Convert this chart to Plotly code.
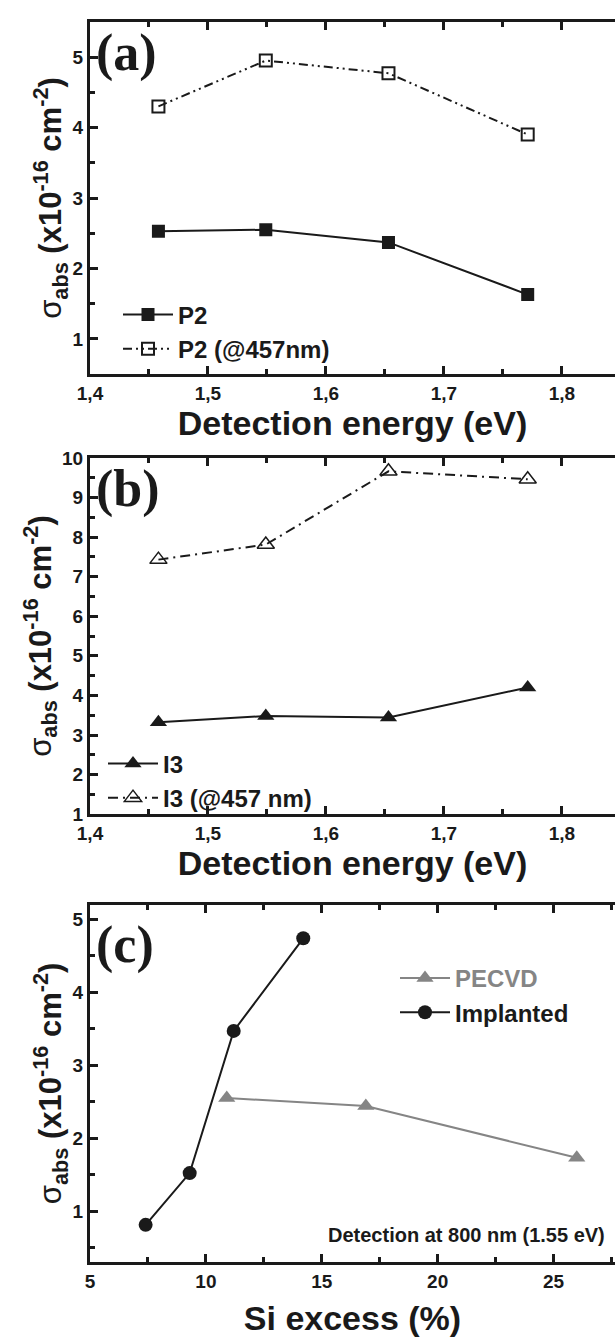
import plotly.graph_objects as go

# ---- data -------------------------------------------------------------
# (a) P2 sample
energy_a = [1.458, 1.549, 1.653, 1.771]
p2 = [2.53, 2.55, 2.37, 1.63]
p2_457 = [4.30, 4.95, 4.77, 3.90]

# (b) I3 sample
energy_b = [1.458, 1.549, 1.653, 1.771]
i3 = [3.32, 3.48, 3.44, 4.20]
i3_457 = [7.43, 7.81, 9.66, 9.46]

# (c) versus Si excess, detection at 800 nm
si_pecvd = [10.9, 16.9, 26.0]
pecvd = [2.55, 2.44, 1.73]
si_impl = [7.4, 9.3, 11.2, 14.2]
implanted = [0.81, 1.52, 3.47, 4.74]

W, H = 615, 1340
BLACK = "#1a1a1a"
GRAY = "#858585"
FONT = "Liberation Sans"
LEFT = 90
PLOT_W = W - LEFT


def yfrac(px):
    return 1 - px / H


def xfrac(px):
    return (px - LEFT) / PLOT_W


fig = go.Figure()

line_w = 2
fig.add_trace(go.Scatter(x=energy_a, y=p2, name="P2", mode="lines+markers",
                         line=dict(color=BLACK, width=line_w),
                         marker=dict(symbol="square", size=13, color=BLACK),
                         xaxis="x", yaxis="y", legend="legend"))
fig.add_trace(go.Scatter(x=energy_a, y=p2_457, name="P2 (@457nm)", mode="lines+markers",
                         line=dict(color=BLACK, width=line_w, dash="9px,4px,2px,4px,2px,4px"),
                         marker=dict(symbol="square-open", size=12, color=BLACK,
                                     line=dict(width=2)),
                         xaxis="x", yaxis="y", legend="legend"))

fig.add_trace(go.Scatter(x=energy_b, y=i3, name="I3", mode="lines+markers",
                         line=dict(color=BLACK, width=line_w),
                         marker=dict(symbol="triangle-up", size=15, color=BLACK),
                         xaxis="x2", yaxis="y2", legend="legend2"))
fig.add_trace(go.Scatter(x=energy_b, y=i3_457, name="I3 (@457 nm)", mode="lines+markers",
                         line=dict(color=BLACK, width=line_w, dash="10px,5px,2px,5px"),
                         marker=dict(symbol="triangle-up-open", size=15, color=BLACK,
                                     line=dict(width=1.5)),
                         xaxis="x2", yaxis="y2", legend="legend2"))

fig.add_trace(go.Scatter(x=si_pecvd, y=pecvd,
                         name=f"<span style='color:{GRAY}'>PECVD</span>",
                         mode="lines+markers",
                         line=dict(color=GRAY, width=line_w),
                         marker=dict(symbol="triangle-up", size=15, color=GRAY),
                         xaxis="x3", yaxis="y3", legend="legend3"))
fig.add_trace(go.Scatter(x=si_impl, y=implanted, name="Implanted", mode="lines+markers",
                         line=dict(color=BLACK, width=line_w),
                         marker=dict(symbol="circle", size=14, color=BLACK),
                         xaxis="x3", yaxis="y3", legend="legend3"))

tick_font = dict(family=FONT, size=19, color=BLACK, weight="bold")
title_font = dict(family=FONT, size=34, color=BLACK, weight="bold")
ytitle = ("<span style='font-weight:normal'>σ</span><sub>abs</sub> "
          "(x10<sup>-16</sup> cm<sup>-2</sup>)")


def xaxis(rng, dtick, minor, fmt, title, anchor, standoff=8):
    return dict(range=rng, dtick=dtick, tick0=0, tickformat=fmt,
                showline=True, linewidth=3, linecolor=BLACK, mirror="ticks",
                ticks="inside", ticklen=8, tickwidth=2.5, tickcolor=BLACK,
                minor=dict(dtick=minor, ticks="inside", ticklen=5, tickwidth=2.5,
                           tickcolor=BLACK),
                showgrid=False, zeroline=False, tickfont=tick_font,
                title=dict(text=title, font=title_font, standoff=standoff),
                anchor=anchor, domain=[0, 1])


def yaxis(rng, dom, anchor):
    return dict(range=rng, dtick=1, tick0=0, showline=True, linewidth=3,
                linecolor=BLACK, mirror=False,
                ticks="inside", ticklen=8, tickwidth=2.5, tickcolor=BLACK,
                minor=dict(dtick=0.5, ticks="inside", ticklen=5, tickwidth=2.5,
                           tickcolor=BLACK),
                showgrid=False, zeroline=False, tickfont=tick_font,
                title=dict(text=ytitle, font=dict(family=FONT, size=31,
                                                  color=BLACK, weight="bold"),
                           standoff=2),
                domain=dom, anchor=anchor)


legend_font = dict(family=FONT, size=24, color=BLACK, weight="bold")
legend_common = dict(xanchor="left", yanchor="top", bgcolor="rgba(0,0,0,0)",
                     font=legend_font, itemwidth=50)

fig.update_layout(
    width=W, height=H,
    margin=dict(l=LEFT, r=0, t=0, b=0),
    paper_bgcolor="white", plot_bgcolor="white",
    separators=",.",
    xaxis=xaxis([1.4, 1.845], 0.1, 0.05, ".1f", "Detection energy (eV)", "y"),
    yaxis=yaxis([0.5, 5.5], [yfrac(370), yfrac(12)], "x"),
    xaxis2=xaxis([1.4, 1.845], 0.1, 0.05, ".1f", "Detection energy (eV)", "y2"),
    yaxis2=yaxis([1, 10], [yfrac(817), yfrac(455)], "x2"),
    xaxis3=xaxis([5, 27.65], 5, 2.5, "d", "Si excess (%)", "y3", standoff=16),
    yaxis3=yaxis([0.3, 5.2], [yfrac(1272), yfrac(909)], "x3"),
    legend=dict(x=xfrac(118), y=yfrac(287), **legend_common),
    legend2=dict(x=xfrac(103), y=yfrac(743), **legend_common),
    legend3=dict(x=xfrac(395), y=yfrac(961), **legend_common),
    showlegend=True,
)

panel_font = dict(family="Liberation Serif", size=52, color=BLACK, weight="bold")
for lab, xr, yr, ytop in [("(a)", "x domain", "y domain", 1.0),
                          ("(b)", "x2 domain", "y2 domain", 1.0),
                          ("(c)", "x3 domain", "y3 domain", 0.975)]:
    fig.add_annotation(text=lab, xref=xr, yref=yr, x=0.008, y=ytop,
                       xanchor="left", yanchor="top", showarrow=False,
                       font=panel_font)

fig.add_annotation(text="Detection at 800 nm (1.55 eV)", xref="x3 domain",
                   yref="y3 domain", x=0.985, y=0.075, xanchor="right",
                   yanchor="middle", showarrow=False,
                   font=dict(family=FONT, size=20, color=BLACK, weight="bold"))

fig.write_html("out.html")
